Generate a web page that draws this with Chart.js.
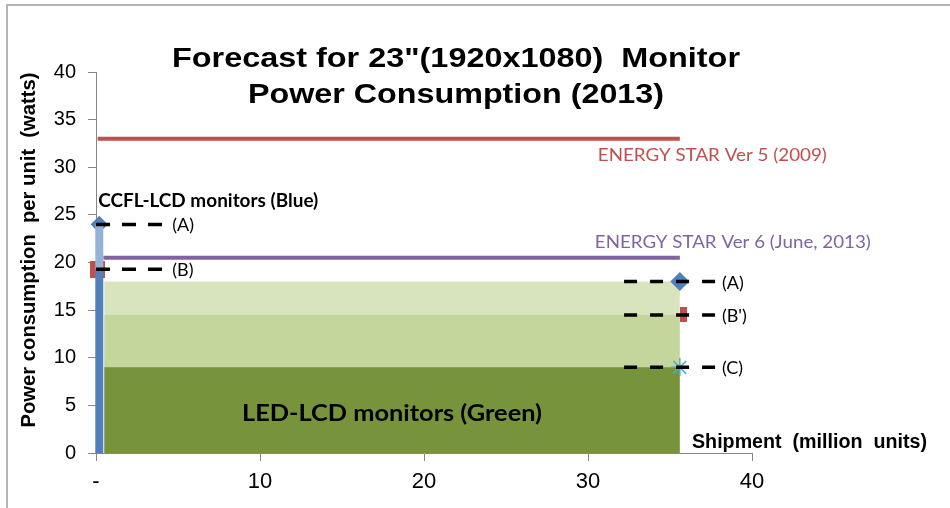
<!DOCTYPE html>
<html>
<head>
  <title>Forecast for 23" Monitor Power Consumption (2013)</title>
  <script src="https://cdn.jsdelivr.net/npm/chart.js"></script>
  <style>
    body { margin: 0; background: #fff; }
    canvas { display: block; }
  </style>
</head>
<body>
  <canvas id="powerChart" width="950" height="508"></canvas>

  <script>
    // x = shipment (million units), y = power per unit (watts)
    const xTicks = [0, 10, 20, 30, 40];
    const yTicks = [0, 5, 10, 15, 20, 25, 30, 35, 40];

    const starNames = ['ENERGY STAR Ver 5 (2009)', 'ENERGY STAR Ver 6 (June, 2013)'];
    const starWatts = [33, 20.5];
    const starFrom = [0.1, 0.45];
    const starTo = [35.6, 35.6];

    const ledNames = ['(A)', "(B')", '(C)'];
    const ledWatts = [18, 14.5, 9];
    const ledShipment = [0.5, 35.6];
    const ledMarkX = [35.6, 35.8, 35.6];

    const ccflNames = ['(A)', '(B)'];
    const ccflWatts = [24, 19.3];
    const ccflShipment = 0.2;

    const leftGuide = [0, 4.1];
    const rightGuide = [32.2, 37.8];

    const ARIAL = '"Liberation Sans", Arial, sans-serif';
    const CALIBRI = 'Lato, "Open Sans", sans-serif';
    const AXIS = '#868686';

    function seg(x0, x1, y0, y1) {
      return [{ x: x0, y: y0 }, { x: x1, y: y1 }];
    }

    function line(data, color, width, order, extra) {
      return Object.assign({
        data: data, showLine: true, borderColor: color, borderWidth: width,
        pointRadius: 0, fill: false, clip: false, order: order
      }, extra || {});
    }

    function block(w, h, color) {
      const c = document.createElement('canvas');
      c.width = w; c.height = h;
      const g = c.getContext('2d');
      g.fillStyle = color;
      g.fillRect(0, 0, w, h);
      return c;
    }

    function mark(x, y, style, color, radius, order) {
      return {
        data: [{ x: x, y: y }], showLine: false, pointStyle: style, pointRadius: radius,
        backgroundColor: color, borderColor: color, borderWidth: 1.5, clip: false, order: order
      };
    }

    const datasets = [];
    // dashed guides
    ccflWatts.forEach(v => datasets.push(line(seg(leftGuide[0], leftGuide[1], v, v), '#000', 3.5, 0, { borderDash: [14, 12] })));
    ledWatts.forEach(v => datasets.push(line(seg(rightGuide[0], rightGuide[1], v, v), '#000', 3.5, 0, { borderDash: [13, 13] })));
    // LED markers
    datasets.push(mark(ledMarkX[0], ledWatts[0], 'rectRot', '#4f81bd', 8.5, 1));
    datasets.push(mark(ledMarkX[1], ledWatts[1], block(7, 15, '#c0504d'), '#c0504d', 5, 1));
    datasets.push(mark(ledMarkX[2], ledWatts[2], 'star', '#4bacc6', 9, 1));
    // CCFL bar
    datasets.push(line(seg(ccflShipment, ccflShipment, ccflWatts[1], ccflWatts[0]), '#95b3d7', 8, 2));
    datasets.push(line(seg(ccflShipment, ccflShipment, 0, ccflWatts[1]), '#4f81bd', 8, 2));
    datasets.push(mark(ccflShipment, ccflWatts[0], 'rectRot', '#4f81bd', 7.5, 3));
    datasets.push(mark(ccflShipment - 0.1, ccflWatts[1], block(15, 17, '#c0504d'), '#c0504d', 8, 3));
    // ENERGY STAR limits
    datasets.push(line(seg(starFrom[0], starTo[0], starWatts[0], starWatts[0]), '#c0504d', 4, 4));
    datasets.push(line(seg(starFrom[1], starTo[1], starWatts[1], starWatts[1]), '#8064a2', 4, 4));
    // LED bands
    const bandColors = ['#77933c', '#c3d69b', '#d7e4bd'];
    [ledWatts[2], ledWatts[1], ledWatts[0]].forEach((v, i) => {
      datasets.push(line(seg(ledShipment[0], ledShipment[1], v, v), bandColors[i], 0, 5 + i,
        { fill: 'origin', backgroundColor: bandColors[i] }));
    });

    function put(ctx, str, x, y, font, color, width, align, rot) {
      ctx.save();
      ctx.font = font;
      ctx.fillStyle = color;
      ctx.textBaseline = 'alphabetic';
      ctx.textAlign = align || 'left';
      const k = width ? width / ctx.measureText(str).width : 1;
      ctx.translate(x, y);
      if (rot) ctx.rotate(rot);
      ctx.scale(k, 1);
      ctx.fillText(str, 0, 0);
      ctx.restore();
    }

    const annotate = {
      id: 'annotate',
      beforeDraw(chart) {
        const ctx = chart.ctx;
        ctx.save();
        ctx.strokeStyle = '#b4b4b4';
        ctx.lineWidth = 2;
        ctx.beginPath();
        ctx.moveTo(7, 508);
        ctx.lineTo(7, 5);
        ctx.lineTo(950, 5);
        ctx.stroke();
        ctx.restore();
      },
      afterDatasetsDraw(chart) {
        const ctx = chart.ctx;
        const xs = chart.scales.x, ys = chart.scales.y;

        put(ctx, 'Forecast for 23"(1920x1080)  Monitor', 456, 67, 'bold 28px ' + ARIAL, '#000', 568, 'center');
        put(ctx, 'Power Consumption (2013)', 456, 103, 'bold 28px ' + ARIAL, '#000', 416, 'center');
        put(ctx, 'Power consumption  per unit  (watts)', 35, 250, 'bold 20px ' + ARIAL, '#000', 355, 'center', -Math.PI / 2);
        put(ctx, 'Shipment  (million  units)', 692, 448, 'bold 20px ' + ARIAL, '#000', 235);

        const endX = xs.getPixelForValue(starTo[0]);
        put(ctx, starNames[0], endX - 82, ys.getPixelForValue(starWatts[0]) + 22, '18px ' + CALIBRI, '#c0504d', 229);
        put(ctx, starNames[1], endX - 85, ys.getPixelForValue(starWatts[1]) - 10, '18px ' + CALIBRI, '#8064a2', 276);

        const barX = xs.getPixelForValue(ccflShipment);
        put(ctx, 'CCFL-LCD monitors (Blue)', barX - 1, ys.getPixelForValue(ccflWatts[0]) - 17, 'bold 18px ' + CALIBRI, '#000', 220);
        const midX = (xs.getPixelForValue(ledShipment[0]) + xs.getPixelForValue(ledShipment[1])) / 2;
        put(ctx, 'LED-LCD monitors (Green)', midX, ys.getPixelForValue(0) - 32, 'bold 22px ' + CALIBRI, '#000', 300, 'center');

        ccflNames.forEach((s, i) => {
          put(ctx, s, xs.getPixelForValue(leftGuide[1]) + 9, ys.getPixelForValue(ccflWatts[i]) + 7, '18px ' + CALIBRI, '#000');
        });
        ledNames.forEach((s, i) => {
          put(ctx, s, xs.getPixelForValue(rightGuide[1]) + 6, ys.getPixelForValue(ledWatts[i]) + 7, '18px ' + CALIBRI, '#000');
        });
      }
    };

    new Chart(document.getElementById('powerChart'), {
      type: 'scatter',
      data: { datasets: datasets },
      options: {
        responsive: false,
        animation: false,
        layout: { padding: { left: 0, top: 72, right: 198, bottom: 0 } },
        plugins: { legend: { display: false }, tooltip: { enabled: false } },
        scales: {
          x: {
            type: 'linear', min: 0, max: 40,
            afterBuildTicks: s => { s.ticks = xTicks.map(v => ({ value: v })); },
            afterFit: s => { s.height = 55; },
            ticks: { callback: v => v === 0 ? '-' : v, color: '#000', padding: 8, maxRotation: 0,
                     font: { family: ARIAL, size: 22 } },
            grid: { drawOnChartArea: false, tickLength: 8, color: AXIS },
            border: { color: AXIS }
          },
          y: {
            type: 'linear', min: 0, max: 40,
            afterBuildTicks: s => { s.ticks = yTicks.map(v => ({ value: v })); },
            afterFit: s => { s.width = 96; },
            ticks: { color: '#000', padding: 12, font: { family: ARIAL, size: 20 } },
            grid: { drawOnChartArea: false, tickLength: 8, color: AXIS },
            border: { color: AXIS }
          }
        }
      },
      plugins: [annotate]
    });
  </script>
</body>
</html>
